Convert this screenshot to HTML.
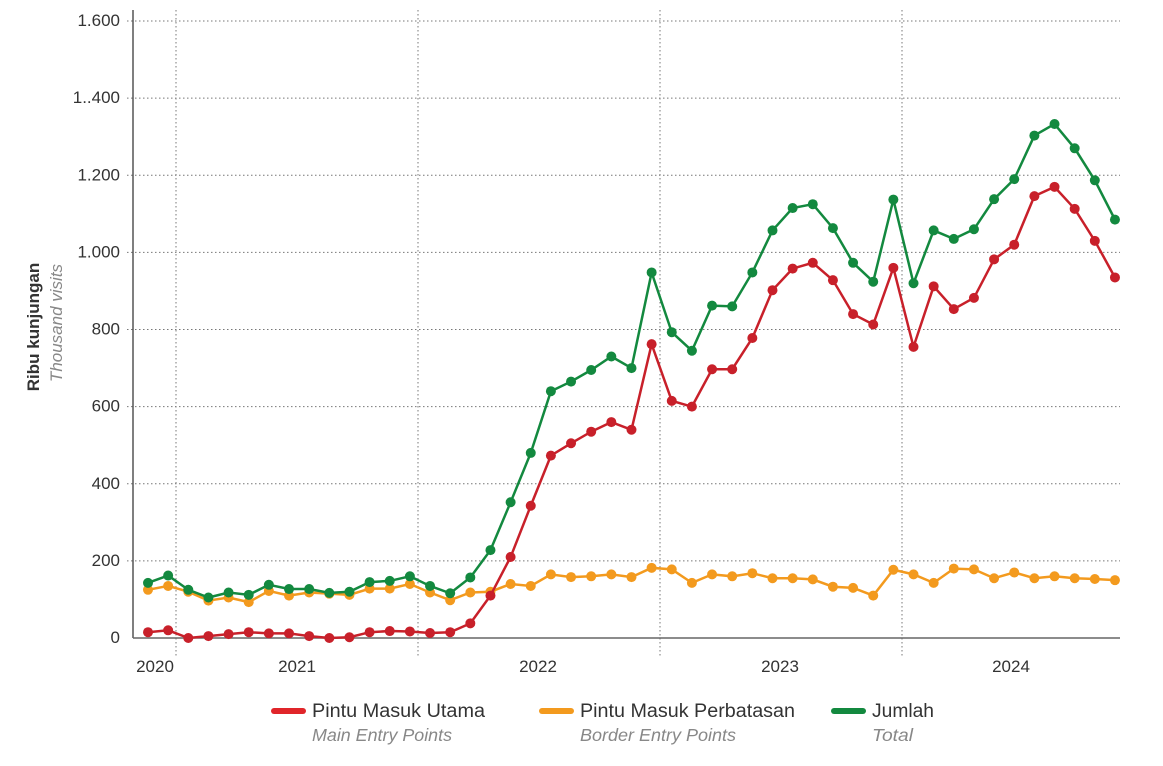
<!DOCTYPE html>
<html><head><meta charset="utf-8"><style>
body{margin:0;background:#fff;width:1163px;height:761px;overflow:hidden;font-family:"Liberation Sans",sans-serif}
</style></head><body>
<svg id="s" width="1163" height="761" xmlns="http://www.w3.org/2000/svg" font-family="Liberation Sans, sans-serif"></svg>
<script>
const s=document.getElementById('s');
const Y=v=>638-v*0.3856, X=i=>148+i*20.145;
let h='';
const yl=[[0,'0'],[200,'200'],[400,'400'],[600,'600'],[800,'800'],[1000,'1.000'],[1200,'1.200'],[1400,'1..400'],[1600,'1.600']];
for(const [v,t] of yl){const y=Y(v);
 if(v>0)h+=`<line x1="127" x2="1120" y1="${y}" y2="${y}" stroke="#777" stroke-width="1" stroke-dasharray="1.5,2.5"/>`;
 h+=`<text x="120" y="${y+5}" text-anchor="end" font-size="17" fill="#333">${t}</text>`;}
for(const x of [176,418,660,902])h+=`<line x1="${x}" x2="${x}" y1="10" y2="656" stroke="#777" stroke-dasharray="1.5,2.5"/>`;
h+=`<line x1="133" x2="133" y1="10" y2="638" stroke="#555" stroke-width="1.5"/><line x1="133" x2="1120" y1="638" y2="638" stroke="#666" stroke-width="1.5"/>`;
for(const [x,t] of [[155,'2020'],[297,'2021'],[538,'2022'],[780,'2023'],[1011,'2024']])h+=`<text x="${x}" y="672" text-anchor="middle" font-size="17" fill="#333">${t}</text>`;
h+=`<text transform="translate(39,327) rotate(-90)" text-anchor="middle" font-size="17" font-weight="bold" fill="#333">Ribu kunjungan</text>`;
h+=`<text transform="translate(62,323) rotate(-90)" text-anchor="middle" font-size="17" font-style="italic" fill="#888">Thousand visits</text>`;
const O=[125,135,120,97,105,93,122,110,118,115,112,128,128,140,118,98,118,120,140,135,165,158,160,165,158,182,178,143,165,160,168,155,155,152,133,130,110,177,165,143,180,178,155,170,155,160,155,153,150];
const R=[15,20,0,5,10,15,12,12,5,0,2,15,18,17,13,15,38,110,210,343,473,505,535,560,540,762,615,600,697,697,778,902,958,973,928,840,813,960,755,912,853,882,982,1020,1146,1170,1113,1030,935];
const G=[143,162,125,105,118,112,138,127,127,117,120,145,148,160,135,116,157,228,352,480,640,665,695,730,700,948,793,745,862,860,948,1057,1115,1125,1063,973,924,1137,920,1057,1035,1060,1138,1190,1303,1333,1270,1187,1085];
for(const [d,c] of [[O,'#f39a1e'],[R,'#c8202a'],[G,'#13893f']]){
 h+=`<polyline fill="none" stroke="${c}" stroke-width="2.5" points="${d.map((v,i)=>X(i)+','+Y(v)).join(' ')}"/>`;
 d.forEach((v,i)=>h+=`<circle cx="${X(i)}" cy="${Y(v)}" r="5" fill="${c}"/>`);}
for(const [x,c,a,b,w1,w2] of [[272,'#e0252a','Pintu Masuk Utama','Main Entry Points',173,140],[540,'#f39a1e','Pintu Masuk Perbatasan','Border Entry Points',215,156],[832,'#13893f','Jumlah','Total',62,41]]){
 h+=`<line x1="${x+2}" x2="${x+31}" y1="711" y2="711" stroke="${c}" stroke-width="6" stroke-linecap="round"/>`;
 h+=`<text x="${x+40}" y="717" font-size="19" fill="#333" textLength="${w1}" lengthAdjust="spacingAndGlyphs">${a}</text><text x="${x+40}" y="741" font-size="17.5" font-style="italic" fill="#888" textLength="${w2}" lengthAdjust="spacingAndGlyphs">${b}</text>`;}
s.innerHTML=h;
</script>
</body></html>
